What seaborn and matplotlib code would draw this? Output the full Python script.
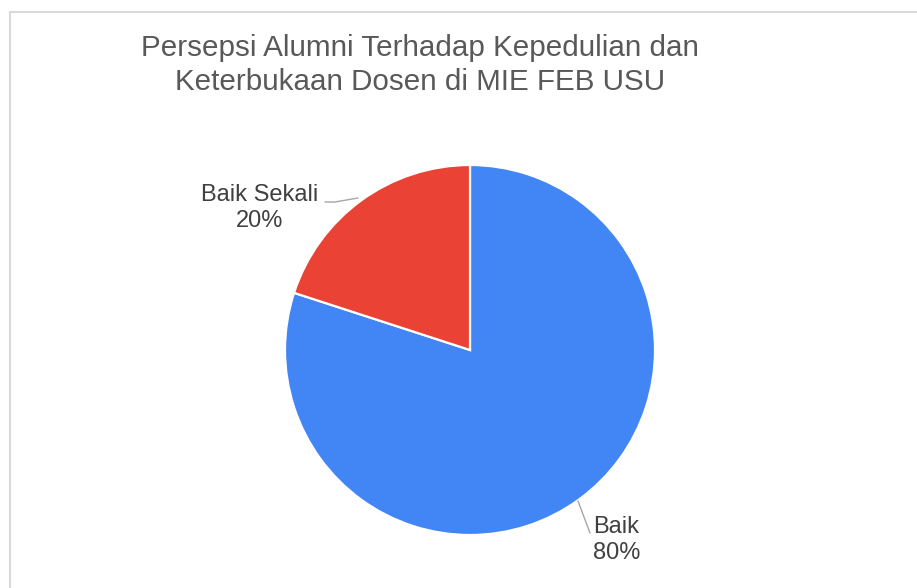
import matplotlib
matplotlib.use("Agg")
import matplotlib.pyplot as plt
import seaborn as sns
from matplotlib.lines import Line2D

categories = ["Baik", "Baik Sekali"]
values = [80, 20]
colors = ["#4285F4", "#EA4335"]
title = "Persepsi Alumni Terhadap Kepedulian dan\nKeterbukaan Dosen di MIE FEB USU"

sns.set_theme(style="white")
plt.rcParams['font.family'] = ['Liberation Sans', 'DejaVu Sans']

W, H = 917, 588
fig = plt.figure(figsize=(W / 100, H / 100), dpi=100)
fig.patch.set_facecolor("white")

# frame (top and left edges visible)
fx, fy = 9.5 / W, 1 - 11.5 / H
fig.lines.append(Line2D([fx, 1.01], [fy, fy], transform=fig.transFigure, color="#D9D9D9", lw=1.5))
fig.lines.append(Line2D([fx, fx], [fy, -0.01], transform=fig.transFigure, color="#D9D9D9", lw=1.5))

cx, cy, r = 470, 350, 185
ax = fig.add_axes([(cx - r) / W, (H - cy - r) / H, 2 * r / W, 2 * r / H])
wedges, _ = ax.pie(values, colors=colors, startangle=90, counterclock=False,
                   wedgeprops=dict(edgecolor="white", linewidth=1.6))
ax.set_xlim(-1, 1)
ax.set_ylim(-1, 1)
ax.set_aspect("equal")
ax.axis("off")

def px(x, y):
    return ((x - cx) / r, (cy - y) / r)

lc = "#A6A6A6"
tc = "#404040"
# Baik leader + label
x0, y0 = px(578, 501)
x1, y1 = px(590, 533)
ax.plot([x0, x1], [y0, y1], color=lc, lw=1.0, clip_on=False)
tx, ty = px(593, 540)
ax.text(tx, ty, f"{categories[0]}\n{values[0]}%", ha="left", va="center",
        fontsize=17, color=tc, linespacing=1.2)

# Baik Sekali leader + label
pts = [px(325, 202), px(335, 202), px(358, 198)]
ax.plot([p[0] for p in pts], [p[1] for p in pts], color=lc, lw=1.0, clip_on=False)
tx, ty = px(260, 208)
ax.text(tx, ty, f"{categories[1]}\n{values[1]}%", ha="center", va="center",
        fontsize=17, color=tc, linespacing=1.2)

fig.text(420 / W, 1 - 65 / H, title, ha="center", va="center", fontsize=21.3,
         color="#595959", linespacing=1.3)

fig.savefig("out.png", dpi=100, facecolor="white")
